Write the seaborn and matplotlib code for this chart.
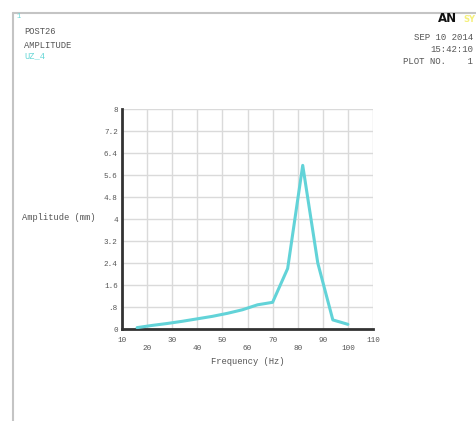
import matplotlib
matplotlib.use("Agg")
import matplotlib.pyplot as plt
import seaborn as sns
import pandas as pd

frequency = [16, 22, 28, 34, 40, 46, 52, 58, 64, 70, 76, 82, 88, 94, 100]
amplitude = [0.05, 0.13, 0.2, 0.28, 0.37, 0.46, 0.57, 0.7, 0.88, 0.97, 2.2, 5.95, 2.4, 0.33, 0.17]
x_ticks = [10, 20, 30, 40, 50, 60, 70, 80, 90, 100, 110]
y_ticks = [0, 0.8, 1.6, 2.4, 3.2, 4, 4.8, 5.6, 6.4, 7.2, 8]
y_tick_labels = ["0", ".8", "1.6", "2.4", "3.2", "4", "4.8", "5.6", "6.4", "7.2", "8"]

df = pd.DataFrame({"Frequency": frequency, "Amplitude": amplitude})

sns.set_style("white")
plt.rcParams["font.family"] = ["Liberation Mono", "DejaVu Sans Mono"]

W, H = 476, 421
fig = plt.figure(figsize=(W / 100, H / 100), dpi=100)
fig.patch.set_facecolor("white")

ax = fig.add_axes([122 / W, 1 - 329 / H, (373 - 122) / W, (329 - 109) / H])
sns.lineplot(data=df, x="Frequency", y="Amplitude", ax=ax, color="#62d3d8",
             linewidth=2.2, zorder=3)
ax.set_xlim(10, 110)
ax.set_ylim(0, 8)
ax.set_xticks(x_ticks)
ax.set_xticklabels([str(t) if i % 2 == 0 else "\n" + str(t) for i, t in enumerate(x_ticks)],
                   fontsize=5.5, color="#555555")
ax.set_yticks(y_ticks)
ax.set_yticklabels(y_tick_labels, fontsize=5.5, color="#555555")
ax.grid(True, color="#dadada", linewidth=1.0)
for s in ["top", "right"]:
    ax.spines[s].set_visible(False)
for s in ["left", "bottom"]:
    ax.spines[s].set_color("#333333")
    ax.spines[s].set_linewidth(2.0)
ax.tick_params(axis="x", length=2, width=0.8, color="#888888", pad=4)
ax.tick_params(axis="y", length=0, pad=3)
ax.set_xlabel("Frequency (Hz)", fontsize=6.3, color="#555555", labelpad=3)
ax.set_ylabel("")
fig.text(22 / W, 1 - 217 / H, "Amplitude (mm)", fontsize=6.3, color="#555555",
         ha="left", va="center")

# frame lines
fig.add_artist(plt.Line2D([13 / W, 13 / W], [1 - 13 / H, 0], color="#c4c4c4", linewidth=1.5))
fig.add_artist(plt.Line2D([13 / W, 1], [1 - 13 / H, 1 - 13 / H], color="#c4c4c4", linewidth=1.5))

# header texts
fig.text(17 / W, 1 - 17 / H, "1", fontsize=5, color="#66d6d6", ha="left", va="center")
fig.text(24 / W, 1 - 32 / H, "POST26", fontsize=6.3, color="#555555", ha="left", va="center")
fig.text(24 / W, 1 - 46 / H, "AMPLITUDE", fontsize=6.3, color="#555555", ha="left", va="center")
fig.text(24 / W, 1 - 56 / H, "UZ_4", fontsize=6.3, color="#66d6d6", ha="left", va="center")

fig.text(438 / W, 1 - 19 / H, "AN", fontsize=8.5, fontweight="bold", color="#111111",
         ha="left", va="center", family="DejaVu Sans")
fig.text(475 / W, 1 - 19 / H, "SY", fontsize=6, fontweight="bold", color="#f5f07a",
         ha="right", va="center", family="DejaVu Sans")
fig.text(473 / W, 1 - 37 / H, "SEP 10 2014", fontsize=6.5, color="#555555", ha="right", va="center")
fig.text(473 / W, 1 - 49 / H, "15:42:10", fontsize=6.5, color="#555555", ha="right", va="center")
fig.text(473 / W, 1 - 61 / H, "PLOT NO.    1", fontsize=6.5, color="#555555", ha="right", va="center")

fig.savefig("out.png", dpi=100, facecolor="white")
